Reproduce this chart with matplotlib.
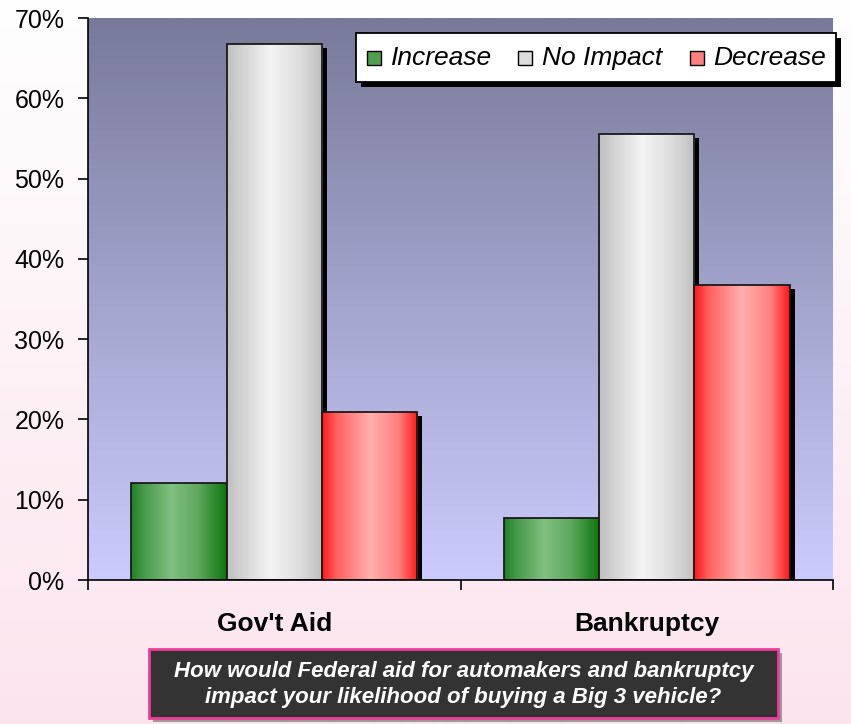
import numpy as np
import matplotlib
matplotlib.use("Agg")
import matplotlib.pyplot as plt
from matplotlib.patches import Rectangle
from matplotlib.colors import LinearSegmentedColormap
import matplotlib.transforms as mtransforms

# ---------------- data ----------------
categories = ["Gov't Aid", "Bankruptcy"]
series = ["Increase", "No Impact", "Decrease"]
increase = [12.1, 7.7]
no_impact = [66.7, 55.5]
decrease = [20.9, 36.8]
values = [increase, no_impact, decrease]
yticks = [0, 10, 20, 30, 40, 50, 60, 70]
caption = ("How would Federal aid for automakers and bankruptcy\n"
           "impact your likelihood of buying a Big 3 vehicle?")

# ---------------- styles ----------------
plt.rcParams['font.family'] = ['Liberation Sans', 'DejaVu Sans']
W, H = 851, 724
fig = plt.figure(figsize=(W / 100, H / 100), dpi=100)

grad_stops = [
    [(0.0, '#218221'), (0.12, '#45984a'), (0.42, '#80c080'), (0.7, '#5fa85f'), (1.0, '#0d760d')],
    [(0.0, '#c0c0c0'), (0.15, '#d2d2d2'), (0.45, '#f4f4f4'), (0.75, '#dedede'), (1.0, '#c0c0c0')],
    [(0.0, '#ff1818'), (0.15, '#ff6060'), (0.5, '#ffb0b0'), (0.8, '#ff8080'), (1.0, '#ff1818')],
]
legend_colors = ['#4f9f4f', '#dcdcdc', '#ff7e7e']
cmaps = [LinearSegmentedColormap.from_list(f"g{i}", s) for i, s in enumerate(grad_stops)]

# figure background gradient
bg = fig.add_axes([0, 0, 1, 1], zorder=-10)
bg.axis('off')
bg_cmap = LinearSegmentedColormap.from_list('bg', ['#fce4ee', '#fdf2f6', '#ffffff'])
bg.imshow(np.linspace(0, 1, 256).reshape(-1, 1)[::-1], cmap=bg_cmap,
          aspect='auto', extent=[0, 1, 0, 1], origin='upper')
bg.set_xlim(0, 1); bg.set_ylim(0, 1)

# main axes
left, right, top, bottom = 88, 833, 18, 580
ax = fig.add_axes([left / W, 1 - bottom / H, (right - left) / W, (bottom - top) / H])
ax.set_xlim(-0.5, 1.5)
ax.set_ylim(0, 70)
ax.patch.set_alpha(0)

plot_cmap = LinearSegmentedColormap.from_list('plot', ['#cbcbfe', '#a3a4cc', '#787a9a'])
ax.imshow(np.linspace(0, 1, 256).reshape(-1, 1), cmap=plot_cmap, aspect='auto',
          extent=[-0.5, 1.5, 0, 70], origin='lower', zorder=0)

width = 0.256
offsets = [-width, 0, width]
shadow_tr = mtransforms.offset_copy(ax.transData, fig=fig, x=5, y=-4, units='dots')
grad = np.linspace(0, 1, 128).reshape(1, -1)

z = 2
for ci in range(len(categories)):
    for si in range(len(series)):
        v = values[si][ci]
        x0 = ci + offsets[si] - width / 2
        sh = Rectangle((x0, 0), width, v, facecolor='black', edgecolor='none',
                       transform=shadow_tr, zorder=z)
        ax.add_patch(sh)
        rect = Rectangle((x0, 0), width, v, facecolor='none', edgecolor='#1a1a1a',
                         linewidth=1.3, zorder=z + 2)
        ax.add_patch(rect)
        im = ax.imshow(grad, cmap=cmaps[si], aspect='auto',
                       extent=[x0, x0 + width, 0, v], zorder=z + 1)
        clip = Rectangle((x0, 0), width, v, transform=ax.transData)
        im.set_clip_path(clip)
        z += 3
ax.set_xlim(-0.5, 1.5)
ax.set_ylim(0, 70)

# spines and ticks
for s in ['top', 'right']:
    ax.spines[s].set_visible(False)
for s in ['left', 'bottom']:
    ax.spines[s].set_linewidth(1.2)
    ax.spines[s].set_color('black')
    ax.spines[s].set_zorder(50)
ax.set_yticks(yticks)
ax.set_yticklabels([f"{t}%" for t in yticks], fontsize=18)
ax.tick_params(axis='y', direction='out', length=7, width=1.2, pad=10)
ax.set_xticks([-0.5, 0.5, 1.5])
ax.set_xticklabels([])
ax.tick_params(axis='x', which='major', direction='out', length=7, width=1.2)
ax.set_xticks([0, 1], minor=True)
ax.set_xticklabels(categories, minor=True, fontsize=19, fontweight='bold')
ax.tick_params(axis='x', which='minor', length=0, pad=23)

# legend (manual, figure pixels)
def px(x, y):
    return x / W, 1 - y / H

lx0, ly0, lx1, ly1 = 356, 33, 836, 82
fig.patches.append(Rectangle(px(lx0 + 5, ly1 + 5), (lx1 - lx0) / W, (ly1 - ly0) / H,
                             transform=fig.transFigure, facecolor='black',
                             edgecolor='none', zorder=60))
fig.patches.append(Rectangle(px(lx0, ly1), (lx1 - lx0) / W, (ly1 - ly0) / H,
                             transform=fig.transFigure, facecolor='white',
                             edgecolor='black', linewidth=1.3, zorder=61))
sq_x = [367, 518, 690]
tx_x = [391, 542, 713]
cy = 58
for i, name in enumerate(series):
    fig.patches.append(Rectangle(px(sq_x[i], cy + 7), 14 / W, 14 / H,
                                 transform=fig.transFigure, facecolor=legend_colors[i],
                                 edgecolor='black', linewidth=1.0, zorder=62))
    fig.text(*px(tx_x[i], cy), name, fontsize=19, fontstyle='italic',
             ha='left', va='center', zorder=63)

# caption box
cx0, cy0, cx1, cy1 = 149, 649, 778, 718
fig.patches.append(Rectangle(px(cx0 + 4, cy1 + 4), (cx1 - cx0) / W, (cy1 - cy0) / H,
                             transform=fig.transFigure, facecolor='#9a9a9a',
                             edgecolor='none', zorder=60))
fig.patches.append(Rectangle(px(cx0, cy1), (cx1 - cx0) / W, (cy1 - cy0) / H,
                             transform=fig.transFigure, facecolor='#333333',
                             edgecolor='#ee3d97', linewidth=2.0, zorder=61))
fig.text(*px((cx0 + cx1) / 2, (cy0 + cy1) / 2 + 1), caption, color='white',
         fontsize=16, fontweight='bold', fontstyle='italic', ha='center',
         va='center', linespacing=1.25, zorder=62)

fig.savefig('out.png', dpi=100)
